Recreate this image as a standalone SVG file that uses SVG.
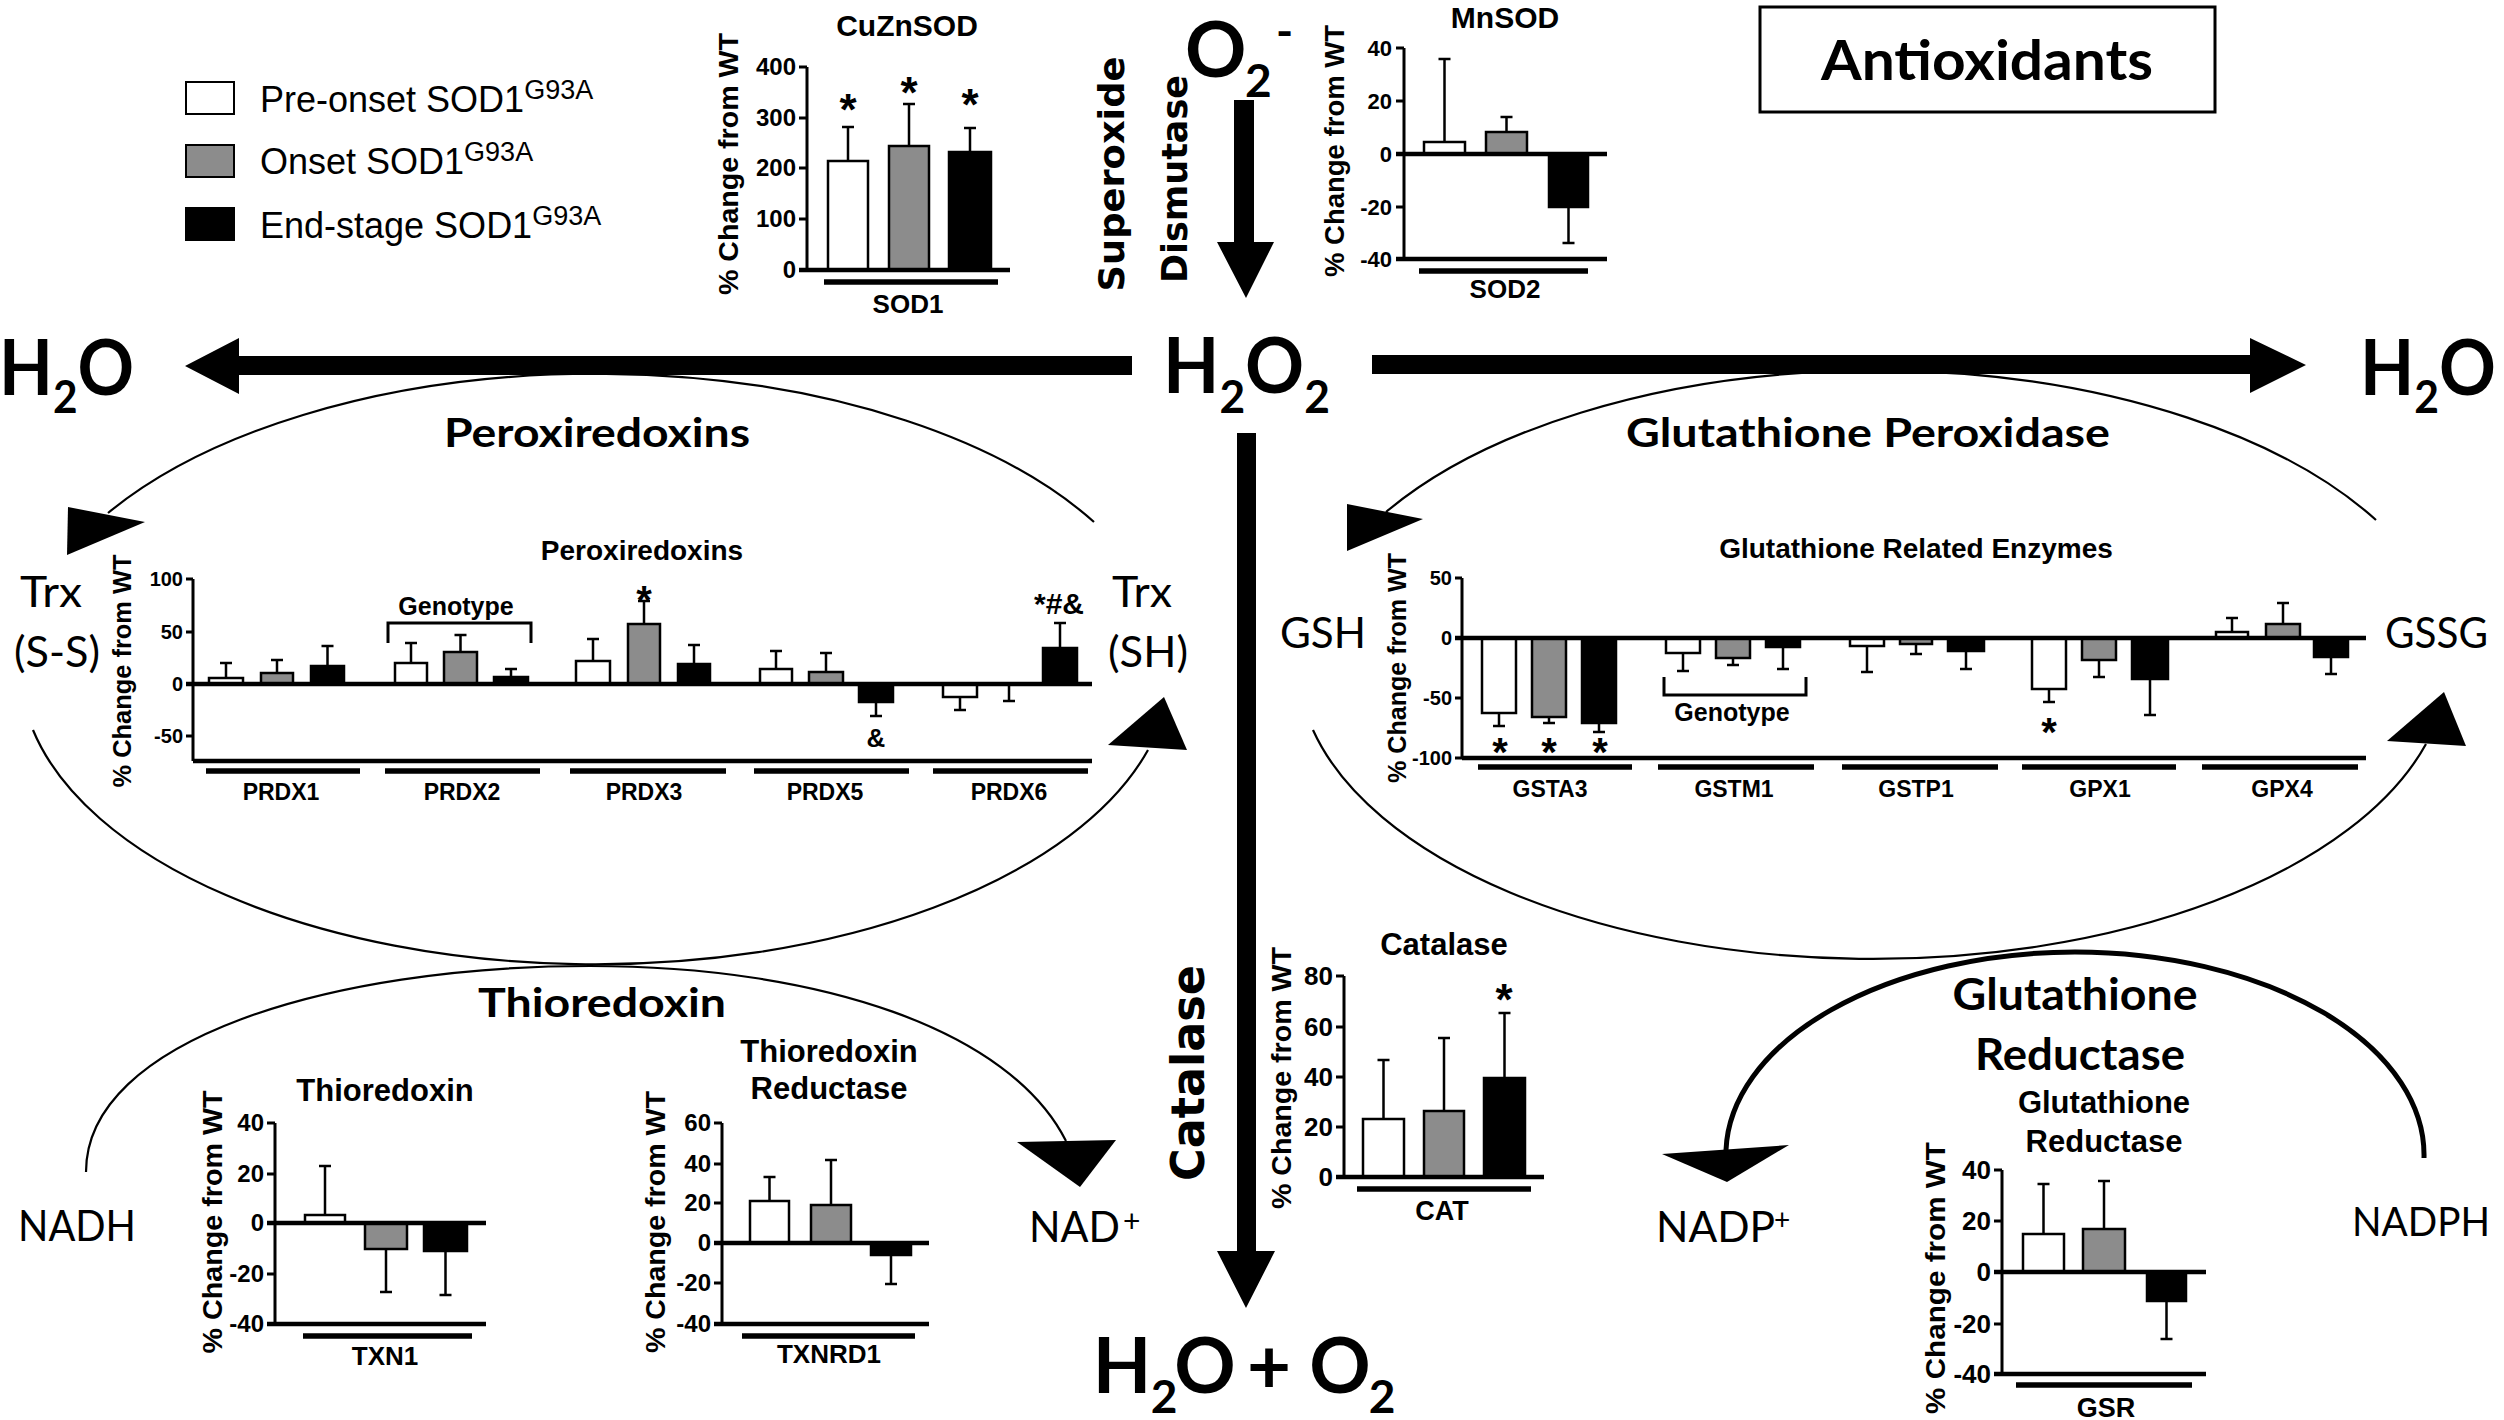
<svg xmlns="http://www.w3.org/2000/svg" width="2504" height="1420" viewBox="0 0 2504 1420">
<style>
.ax{stroke:#000;stroke-width:3;fill:none}
.zl{stroke:#000;stroke-width:4.5;fill:none}
.gb{stroke:#000;stroke-width:5.5;fill:none}
.bw{fill:#fff;stroke:#000;stroke-width:2.5}
.bg{fill:#8c8c8c;stroke:#000;stroke-width:2.5}
.bk{fill:#000;stroke:#000;stroke-width:2.5}
.er{stroke:#000;stroke-width:2.5;fill:none}
.ct{font-family:"Liberation Sans",Arial,sans-serif;font-weight:bold;fill:#000}
.tk{text-anchor:end}
.mid{text-anchor:middle}
.big{font-family:Lato,"Open Sans",sans-serif;font-weight:700;fill:#000}
.reg{font-family:Lato,"Open Sans",sans-serif;font-weight:400;fill:#000}
.rot{font-family:"DejaVu Sans",Verdana,sans-serif;font-weight:bold;fill:#000}
.lg{font-family:"Liberation Sans",Arial,sans-serif;font-weight:400;fill:#000}
.thin{fill:none;stroke:#000;stroke-width:2.2}
.thick{fill:none;stroke:#000;stroke-width:5}
</style>
<rect width="2504" height="1420" fill="#fff"/>

<!-- Connectors -->
<g id="connectors">
  <path d="M1132 356 H239 V338 L185 366 L239 394 V375 H1132 Z" fill="#000"/>
  <path d="M1372 355 H2250 V338 L2306 365 L2250 393 V374 H1372 Z" fill="#000"/>
  <path d="M1234 100 H1254 V242 H1274 L1246 298 L1217 242 H1234 Z" fill="#000"/>
  <path d="M1237 433 H1256 V1251 H1275 L1246 1308 L1217 1251 H1237 Z" fill="#000"/>
  <!-- Peroxiredoxin cycle -->
  <path class="thin" d="M1094 522 A575 296 0 0 0 108 513"/>
  <path d="M68 507 L145 522 L67 555 Z" fill="#000"/>
  <path class="thin" d="M33 730 A575 296 0 0 0 1148 750"/>
  <path d="M1108 745 L1164 697 L1187 750 Z" fill="#000"/>
  <!-- Glutathione peroxidase cycle -->
  <path class="thin" d="M2376 520 A575 296 0 0 0 1386 512"/>
  <path d="M1347 504 L1423 519 L1347 551 Z" fill="#000"/>
  <path class="thin" d="M1313 730 A575 296 0 0 0 2426 744"/>
  <path d="M2387 741 L2444 692 L2466 746 Z" fill="#000"/>
  <!-- Thioredoxin arc -->
  <path class="thin" d="M86 1172 C86 1040 330 966 590 966 C820 966 1010 1030 1066 1141"/>
  <path d="M1017 1142 L1116 1140 L1080 1187 Z" fill="#000"/>
  <!-- Glutathione reductase arc -->
  <path class="thick" d="M2424 1158 A350 203 0 0 0 2075 952 A350 203 0 0 0 1726 1150"/>
  <path d="M1662 1154 L1789 1145 L1727 1182 Z" fill="#000"/>
</g>

<!-- Species labels -->
<g id="h2o-left"><text class="big" x="-1" y="395" font-size="76" textLength="135" lengthAdjust="spacingAndGlyphs">H<tspan font-size="46" dy="18">2</tspan><tspan font-size="76" dy="-18">O</tspan></text></g>
<g id="h2o-right"><text class="big" x="2360" y="395" font-size="76" textLength="136" lengthAdjust="spacingAndGlyphs">H<tspan font-size="46" dy="18">2</tspan><tspan font-size="76" dy="-18">O</tspan></text></g>
<g id="h2o2"><text class="big" x="1163" y="393" font-size="76" textLength="167" lengthAdjust="spacingAndGlyphs">H<tspan font-size="46" dy="20">2</tspan><tspan font-size="76" dy="-20">O</tspan><tspan font-size="46" dy="20">2</tspan></text></g>
<g id="superoxide">
  <text class="big" x="1185" y="77" font-size="76">O</text>
  <text class="big" x="1245" y="97" font-size="46">2</text>
  <text class="big" x="1276" y="48" font-size="46">-</text>
</g>
<g id="h2o-o2" class="big mid">
  <text x="1122" y="1393" font-size="76">H</text>
  <text x="1164" y="1413" font-size="46">2</text>
  <text x="1205" y="1393" font-size="76">O</text>
  <text x="1269" y="1393" font-size="76">+</text>
  <text x="1340" y="1393" font-size="76">O</text>
  <text x="1382" y="1413" font-size="46">2</text>
</g>

<g id="label-sod">
  <text class="rot mid" font-size="35" transform="translate(1124,174) rotate(-90)" textLength="235" lengthAdjust="spacingAndGlyphs">Superoxide</text>
  <text class="rot mid" font-size="35" transform="translate(1187,179) rotate(-90)" textLength="208" lengthAdjust="spacingAndGlyphs">Dismutase</text>
</g>
<g id="label-catalase"><text class="rot mid" font-size="46" transform="translate(1204,1073) rotate(-90)" textLength="216" lengthAdjust="spacingAndGlyphs">Catalase</text></g>

<g id="title-antioxidants">
  <rect x="1760" y="7" width="455" height="105" fill="#fff" stroke="#000" stroke-width="3"/>
  <text class="big mid" x="1987" y="80" font-size="56" textLength="332" lengthAdjust="spacingAndGlyphs">Antioxidants</text>
</g>

<g id="label-peroxiredoxins"><text class="big mid" x="597" y="447" font-size="40" textLength="306" lengthAdjust="spacingAndGlyphs">Peroxiredoxins</text></g>
<g id="label-gpx"><text class="big mid" x="1868" y="447" font-size="40" textLength="484" lengthAdjust="spacingAndGlyphs">Glutathione Peroxidase</text></g>
<g id="label-thioredoxin"><text class="big mid" x="602" y="1017" font-size="40" textLength="248" lengthAdjust="spacingAndGlyphs">Thioredoxin</text></g>
<g id="label-gr">
  <text class="big mid" x="2075" y="1010" font-size="43" textLength="245" lengthAdjust="spacingAndGlyphs">Glutathione</text>
  <text class="big mid" x="2080" y="1070" font-size="43" textLength="210" lengthAdjust="spacingAndGlyphs">Reductase</text>
</g>

<g id="trx-ss"><text class="reg" x="20" y="607" font-size="43" textLength="62" lengthAdjust="spacingAndGlyphs">Trx</text><text class="reg" x="14" y="667" font-size="43" textLength="86" lengthAdjust="spacingAndGlyphs">(S-S)</text></g>
<g id="trx-sh"><text class="reg" x="1112" y="607" font-size="43" textLength="60" lengthAdjust="spacingAndGlyphs">Trx</text><text class="reg" x="1108" y="667" font-size="43" textLength="80" lengthAdjust="spacingAndGlyphs">(SH)</text></g>
<g id="gsh"><text class="reg" x="1280" y="648" font-size="43" textLength="86" lengthAdjust="spacingAndGlyphs">GSH</text></g>
<g id="gssg"><text class="reg" x="2385" y="648" font-size="43" textLength="103" lengthAdjust="spacingAndGlyphs">GSSG</text></g>
<g id="nadh"><text class="reg" x="18" y="1241" font-size="43" textLength="118" lengthAdjust="spacingAndGlyphs">NADH</text></g>
<g id="nad"><text class="reg" x="1029" y="1242" font-size="43" textLength="91" lengthAdjust="spacingAndGlyphs">NAD</text><text class="reg" x="1123" y="1232" font-size="30">+</text></g>
<g id="nadp"><text class="reg" x="1656" y="1242" font-size="43" textLength="119" lengthAdjust="spacingAndGlyphs">NADP</text><text class="reg" x="1774" y="1230" font-size="28">+</text></g>
<g id="nadph"><text class="reg" x="2352" y="1236" font-size="40" textLength="138" lengthAdjust="spacingAndGlyphs">NADPH</text></g>

<!-- Legend -->
<g id="legend">
  <rect x="186" y="82" width="48" height="32" fill="#fff" stroke="#000" stroke-width="2"/>
  <rect x="186" y="145" width="48" height="32" fill="#8c8c8c" stroke="#000" stroke-width="2"/>
  <rect x="186" y="208" width="48" height="32" fill="#000" stroke="#000" stroke-width="2"/>
  <text class="lg" x="260" y="112" font-size="36">Pre-onset SOD1<tspan font-size="27" dy="-13">G93A</tspan></text>
  <text class="lg" x="260" y="174" font-size="36">Onset SOD1<tspan font-size="27" dy="-13">G93A</tspan></text>
  <text class="lg" x="260" y="238" font-size="36">End-stage SOD1<tspan font-size="27" dy="-13">G93A</tspan></text>
</g>

<!-- CuZnSOD -->
<g id="chart-cuznsod">
  <text class="ct mid" x="907" y="36" font-size="30">CuZnSOD</text>
  <path class="ax" d="M807 67 V270 M799 67 H807 M799 118 H807 M799 168 H807 M799 219 H807"/>
  <g class="ct tk" font-size="24"><text x="796" y="75">400</text><text x="796" y="126">300</text><text x="796" y="176">200</text><text x="796" y="227">100</text><text x="796" y="278">0</text></g>
  <rect class="bw" x="828" y="161" width="40" height="109"/>
  <rect class="bg" x="889" y="146" width="40" height="124"/>
  <rect class="bk" x="949" y="152" width="42" height="118"/>
  <path class="er" d="M848 161 V127 M842 127 H854 M909 146 V104 M903 104 H915 M970 152 V128 M964 128 H976"/>
  <path class="zl" d="M799 270 H1010"/>
  <g class="ct mid" font-size="44"><text x="848" y="125">*</text><text x="909" y="108">*</text><text x="970" y="120">*</text></g>
  <path class="gb" d="M824 282 H998"/>
  <text class="ct mid" x="908" y="313" font-size="26">SOD1</text>
  <text class="ct mid" font-size="27" transform="translate(738,164) rotate(-90)" textLength="262" lengthAdjust="spacingAndGlyphs">% Change from WT</text>
</g>

<!-- MnSOD -->
<g id="chart-mnsod">
  <text class="ct mid" x="1505" y="28" font-size="30">MnSOD</text>
  <path class="ax" d="M1404 48 V259 M1396 48 H1404 M1396 101 H1404 M1396 207 H1404"/>
  <g class="ct tk" font-size="22"><text x="1392" y="56">40</text><text x="1392" y="109">20</text><text x="1392" y="162">0</text><text x="1392" y="215">-20</text><text x="1392" y="267">-40</text></g>
  <rect class="bw" x="1424" y="142" width="41" height="12"/>
  <rect class="bg" x="1486" y="132" width="41" height="22"/>
  <rect class="bk" x="1549" y="154" width="39" height="53"/>
  <path class="er" d="M1444.5 142 V59 M1438.5 59 H1450.5 M1506.5 132 V117 M1500.5 117 H1512.5 M1568.5 207 V243 M1562.5 243 H1574.5"/>
  <path class="zl" d="M1396 154 H1607 M1396 259 H1607"/>
  <path class="gb" d="M1419 271 H1588"/>
  <text class="ct mid" x="1505" y="298" font-size="26">SOD2</text>
  <text class="ct mid" font-size="27" transform="translate(1344,151) rotate(-90)" textLength="252" lengthAdjust="spacingAndGlyphs">% Change from WT</text>
</g>

<!-- Peroxiredoxins -->
<g id="chart-prdx">
  <text class="ct mid" x="642" y="560" font-size="28">Peroxiredoxins</text>
  <path class="ax" d="M193 579 V761 M186 579 H193 M186 632 H193 M186 736 H193"/>
  <g class="ct tk" font-size="20"><text x="183" y="586">100</text><text x="183" y="639">50</text><text x="183" y="691">0</text><text x="183" y="743">-50</text></g>
  <rect class="bw" x="209" y="678" width="34" height="6"/>
  <rect class="bg" x="261" y="673" width="32" height="11"/>
  <rect class="bk" x="311" y="666" width="33" height="18"/>
  <rect class="bw" x="395" y="663" width="32" height="21"/>
  <rect class="bg" x="444" y="652" width="33" height="32"/>
  <rect class="bk" x="494" y="677" width="34" height="7"/>
  <rect class="bw" x="576" y="661" width="34" height="23"/>
  <rect class="bg" x="628" y="624" width="32" height="60"/>
  <rect class="bk" x="678" y="664" width="32" height="20"/>
  <rect class="bw" x="760" y="669" width="32" height="15"/>
  <rect class="bg" x="809" y="672" width="34" height="12"/>
  <rect class="bk" x="859" y="684" width="34" height="18"/>
  <rect class="bw" x="943" y="684" width="34" height="13"/>
  <rect class="bk" x="1043" y="648" width="34" height="36"/>
  <path class="er" d="M226 678 V663 M220 663 H232 M277 673 V660 M271 660 H283 M327.5 666 V646 M321.5 646 H333.5
    M411 663 V643 M405 643 H417 M460.5 652 V635 M454.5 635 H466.5 M511 677 V669 M505 669 H517
    M593 661 V639 M587 639 H599 M644 624 V601 M638 601 H650 M694 664 V645 M688 645 H700
    M776 669 V651 M770 651 H782 M826 672 V653 M820 653 H832 M876 702 V716 M870 716 H882
    M960 697 V710 M954 710 H966 M1009 684 V701 M1003 701 H1015 M1060 648 V623 M1054 623 H1066"/>
  <path class="zl" d="M186 684 H1092 M193 761 H1092"/>
  <path class="ax" d="M388 643 V623 H531 V643"/>
  <text class="ct mid" x="456" y="615" font-size="25">Genotype</text>
  <text class="ct mid" x="644" y="614" font-size="40">*</text>
  <text class="ct mid" x="876" y="747" font-size="26">&amp;</text>
  <text class="ct mid" x="1059" y="614" font-size="30">*#&amp;</text>
  <path class="gb" d="M206 771 H360 M385 771 H540 M570 771 H726 M754 771 H909 M933 771 H1088"/>
  <g class="ct mid" font-size="23"><text x="281" y="800">PRDX1</text><text x="462" y="800">PRDX2</text><text x="644" y="800">PRDX3</text><text x="825" y="800">PRDX5</text><text x="1009" y="800">PRDX6</text></g>
  <text class="ct mid" font-size="25" transform="translate(131,671) rotate(-90)" textLength="233" lengthAdjust="spacingAndGlyphs">% Change from WT</text>
</g>

<!-- Glutathione related enzymes -->
<g id="chart-gre">
  <text class="ct mid" x="1916" y="558" font-size="28">Glutathione Related Enzymes</text>
  <path class="ax" d="M1462 578 V758 M1455 578 H1462 M1455 698 H1462 M1455 758 H1462"/>
  <g class="ct tk" font-size="20"><text x="1452" y="585">50</text><text x="1452" y="645">0</text><text x="1452" y="705">-50</text><text x="1452" y="765">-100</text></g>
  <rect class="bw" x="1482" y="638" width="34" height="75"/>
  <rect class="bg" x="1532" y="638" width="34" height="79"/>
  <rect class="bk" x="1582" y="638" width="34" height="85"/>
  <rect class="bw" x="1666" y="638" width="34" height="15"/>
  <rect class="bg" x="1716" y="638" width="34" height="20"/>
  <rect class="bk" x="1766" y="638" width="34" height="9"/>
  <rect class="bw" x="1850" y="638" width="34" height="8"/>
  <rect class="bg" x="1900" y="638" width="32" height="6"/>
  <rect class="bk" x="1948" y="638" width="36" height="13"/>
  <rect class="bw" x="2032" y="638" width="34" height="51"/>
  <rect class="bg" x="2082" y="638" width="34" height="22"/>
  <rect class="bk" x="2132" y="638" width="36" height="41"/>
  <rect class="bw" x="2216" y="632" width="32" height="6"/>
  <rect class="bg" x="2266" y="624" width="34" height="14"/>
  <rect class="bk" x="2314" y="638" width="34" height="19"/>
  <path class="er" d="M1499 713 V726 M1493 726 H1505 M1549 717 V723 M1543 723 H1555 M1599 723 V732 M1593 732 H1605
    M1683 653 V671 M1677 671 H1689 M1733 658 V665 M1727 665 H1739 M1783 647 V669 M1777 669 H1789
    M1867 646 V672 M1861 672 H1873 M1916 644 V654 M1910 654 H1922 M1966 651 V669 M1960 669 H1972
    M2049 689 V702 M2043 702 H2055 M2099 660 V677 M2093 677 H2105 M2150 679 V715 M2144 715 H2156
    M2232 632 V618 M2226 618 H2238 M2283 624 V603 M2277 603 H2289 M2331 657 V674 M2325 674 H2337"/>
  <path class="zl" d="M1455 638 H2366 M1462 758 H2366"/>
  <path class="ax" d="M1664 677 V695 H1806 V677"/>
  <text class="ct mid" x="1732" y="721" font-size="25">Genotype</text>
  <g class="ct mid" font-size="40"><text x="1500" y="766">*</text><text x="1549" y="766">*</text><text x="1600" y="766">*</text><text x="2049" y="746">*</text></g>
  <path class="gb" d="M1478 767 H1632 M1658 767 H1814 M1842 767 H1998 M2022 767 H2176 M2202 767 H2358"/>
  <g class="ct mid" font-size="23"><text x="1550" y="797">GSTA3</text><text x="1734" y="797">GSTM1</text><text x="1916" y="797">GSTP1</text><text x="2100" y="797">GPX1</text><text x="2282" y="797">GPX4</text></g>
  <text class="ct mid" font-size="25" transform="translate(1406,668) rotate(-90)" textLength="230" lengthAdjust="spacingAndGlyphs">% Change from WT</text>
</g>

<!-- Catalase -->
<g id="chart-cat">
  <text class="ct mid" x="1444" y="955" font-size="31">Catalase</text>
  <path class="ax" d="M1344 976 V1177 M1336 976 H1344 M1336 1027 H1344 M1336 1077 H1344 M1336 1127 H1344"/>
  <g class="ct tk" font-size="26"><text x="1333" y="985">80</text><text x="1333" y="1036">60</text><text x="1333" y="1086">40</text><text x="1333" y="1136">20</text><text x="1333" y="1186">0</text></g>
  <rect class="bw" x="1363" y="1119" width="41" height="58"/>
  <rect class="bg" x="1424" y="1111" width="40" height="66"/>
  <rect class="bk" x="1484" y="1078" width="41" height="99"/>
  <path class="er" d="M1383.5 1119 V1060 M1377.5 1060 H1389.5 M1444 1111 V1038 M1438 1038 H1450 M1504.5 1078 V1013 M1498.5 1013 H1510.5"/>
  <path class="zl" d="M1336 1177 H1544"/>
  <text class="ct mid" x="1504" y="1015" font-size="44">*</text>
  <path class="gb" d="M1357 1189 H1531"/>
  <text class="ct mid" x="1442" y="1220" font-size="27">CAT</text>
  <text class="ct mid" font-size="28" transform="translate(1291,1078) rotate(-90)" textLength="262" lengthAdjust="spacingAndGlyphs">% Change from WT</text>
</g>

<!-- Glutathione Reductase chart -->
<g id="chart-gsr">
  <text class="ct mid" x="2104" y="1113" font-size="31">Glutathione</text>
  <text class="ct mid" x="2104" y="1152" font-size="31">Reductase</text>
  <path class="ax" d="M2002 1170 V1374 M1994 1170 H2002 M1994 1221 H2002 M1994 1324 H2002"/>
  <g class="ct tk" font-size="26"><text x="1991" y="1179">40</text><text x="1991" y="1230">20</text><text x="1991" y="1281">0</text><text x="1991" y="1333">-20</text><text x="1991" y="1383">-40</text></g>
  <rect class="bw" x="2023" y="1234" width="41" height="38"/>
  <rect class="bg" x="2083" y="1229" width="42" height="43"/>
  <rect class="bk" x="2147" y="1272" width="39" height="29"/>
  <path class="er" d="M2043.5 1234 V1184 M2037.5 1184 H2049.5 M2104 1229 V1181 M2098 1181 H2110 M2166.5 1301 V1339 M2160.5 1339 H2172.5"/>
  <path class="zl" d="M1994 1272 H2206 M1994 1374 H2206"/>
  <path class="gb" d="M2016 1385 H2192"/>
  <text class="ct mid" x="2106" y="1417" font-size="27">GSR</text>
  <text class="ct mid" font-size="28" transform="translate(1945,1278) rotate(-90)" textLength="272" lengthAdjust="spacingAndGlyphs">% Change from WT</text>
</g>

<!-- Thioredoxin chart -->
<g id="chart-txn1">
  <text class="ct mid" x="385" y="1101" font-size="31">Thioredoxin</text>
  <path class="ax" d="M275 1123 V1324 M267 1123 H275 M267 1174 H275 M267 1274 H275"/>
  <g class="ct tk" font-size="24"><text x="264" y="1131">40</text><text x="264" y="1182">20</text><text x="264" y="1231">0</text><text x="264" y="1282">-20</text><text x="264" y="1332">-40</text></g>
  <rect class="bw" x="305" y="1215" width="40" height="8"/>
  <rect class="bg" x="365" y="1223" width="42" height="26"/>
  <rect class="bk" x="424" y="1223" width="43" height="28"/>
  <path class="er" d="M325 1215 V1166 M319 1166 H331 M386 1249 V1292 M380 1292 H392 M445.5 1251 V1295 M439.5 1295 H451.5"/>
  <path class="zl" d="M267 1223 H486 M267 1324 H486"/>
  <path class="gb" d="M303 1336 H472"/>
  <text class="ct mid" x="385" y="1365" font-size="26">TXN1</text>
  <text class="ct mid" font-size="28" transform="translate(222,1222) rotate(-90)" textLength="263" lengthAdjust="spacingAndGlyphs">% Change from WT</text>
</g>

<!-- Thioredoxin Reductase chart -->
<g id="chart-txnrd1">
  <text class="ct mid" x="829" y="1062" font-size="31">Thioredoxin</text>
  <text class="ct mid" x="829" y="1099" font-size="31">Reductase</text>
  <path class="ax" d="M722 1123 V1324 M714 1123 H722 M714 1164 H722 M714 1203 H722 M714 1283 H722"/>
  <g class="ct tk" font-size="24"><text x="711" y="1131">60</text><text x="711" y="1172">40</text><text x="711" y="1211">20</text><text x="711" y="1251">0</text><text x="711" y="1291">-20</text><text x="711" y="1332">-40</text></g>
  <rect class="bw" x="750" y="1201" width="39" height="42"/>
  <rect class="bg" x="811" y="1205" width="40" height="38"/>
  <rect class="bk" x="871" y="1243" width="40" height="12"/>
  <path class="er" d="M769.5 1201 V1177 M763.5 1177 H775.5 M831 1205 V1160 M825 1160 H837 M891 1255 V1284 M885 1284 H897"/>
  <path class="zl" d="M714 1243 H929 M714 1324 H929"/>
  <path class="gb" d="M742 1336 H915"/>
  <text class="ct mid" x="829" y="1363" font-size="26">TXNRD1</text>
  <text class="ct mid" font-size="28" transform="translate(665,1222) rotate(-90)" textLength="262" lengthAdjust="spacingAndGlyphs">% Change from WT</text>
</g>
</svg>
